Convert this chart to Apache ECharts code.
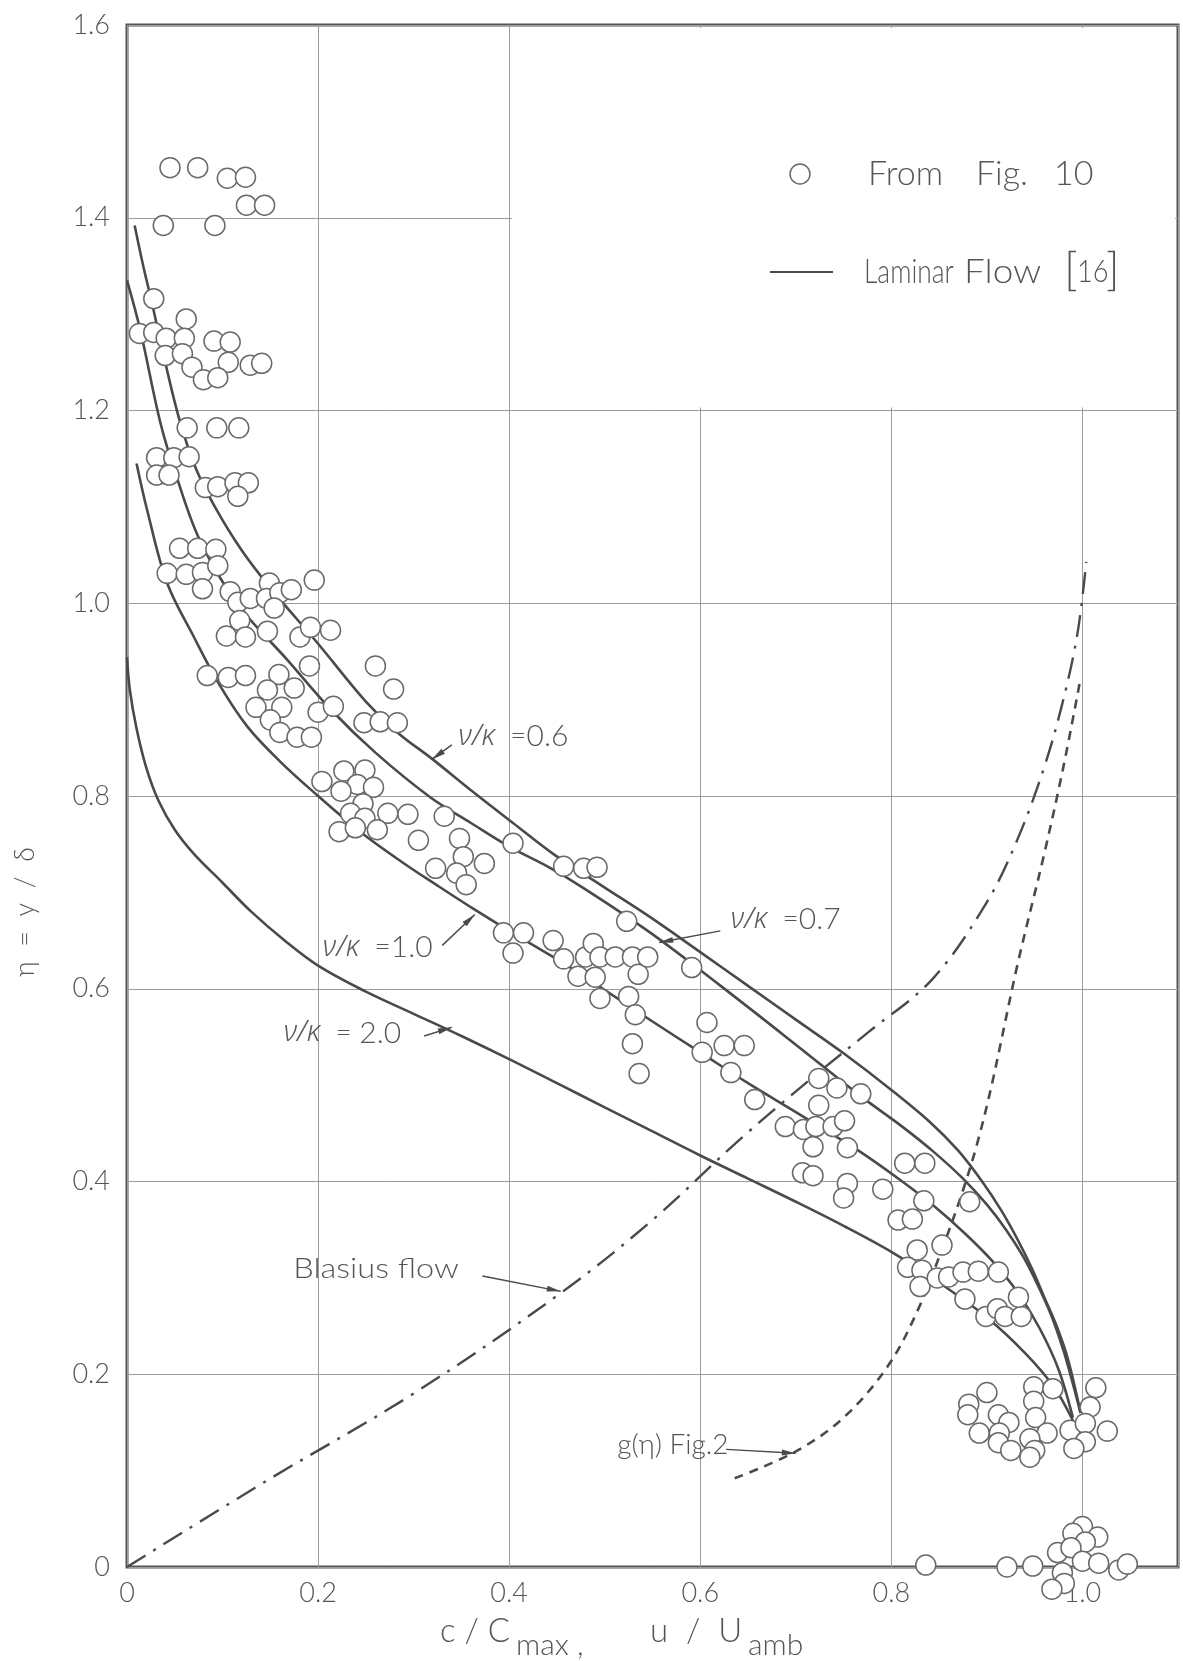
<!DOCTYPE html>
<html>
<head>
<meta charset="utf-8">
<script src="https://cdn.jsdelivr.net/npm/echarts@6/dist/echarts.min.js"></script>
<style>
  html, body { margin: 0; padding: 0; background: #fff; }
  #chart { width: 1183px; height: 1661px; }
</style>
</head>
<body>
<div id="chart"></div>
<script>
// ---- Laminar-flow profiles (x = c/Cmax or u/Uamb, y = eta = y/delta) ----
const nu06 = [[0.008,1.392],[0.017,1.35],[0.026,1.312],[0.04,1.25],[0.055,1.19],[0.072,1.14],[0.092,1.10],[0.12,1.055],[0.15,1.016],[0.2,0.958],[0.25,0.898],[0.283,0.866],[0.32,0.838],[0.36,0.806],[0.404,0.772],[0.446,0.740],[0.5,0.705],[0.548,0.674],[0.6,0.638],[0.65,0.603],[0.7,0.568],[0.75,0.533],[0.8,0.495],[0.84,0.462],[0.87,0.432],[0.895,0.40],[0.915,0.37],[0.932,0.34],[0.947,0.31],[0.96,0.28],[0.973,0.25],[0.985,0.215],[0.998,0.16]];
const nu07 = [[0.0,1.335],[0.014,1.283],[0.035,1.187],[0.052,1.131],[0.076,1.066],[0.115,1.0],[0.168,0.941],[0.213,0.89],[0.26,0.845],[0.317,0.799],[0.36,0.772],[0.401,0.747],[0.44,0.727],[0.477,0.705],[0.548,0.658],[0.62,0.604],[0.7,0.542],[0.77,0.487],[0.81,0.458],[0.844,0.431],[0.875,0.403],[0.9,0.376],[0.92,0.35],[0.938,0.322],[0.953,0.293],[0.967,0.262],[0.98,0.225],[0.99,0.19],[0.998,0.16]];
const nu10 = [[0.01,1.145],[0.021,1.097],[0.042,1.021],[0.07,0.965],[0.097,0.915],[0.126,0.872],[0.16,0.836],[0.2,0.80],[0.244,0.763],[0.29,0.73],[0.325,0.707],[0.364,0.682],[0.4,0.66],[0.461,0.624],[0.498,0.600],[0.55,0.566],[0.6,0.534],[0.65,0.502],[0.7,0.472],[0.764,0.433],[0.81,0.401],[0.844,0.375],[0.877,0.346],[0.907,0.316],[0.932,0.285],[0.955,0.248],[0.975,0.205],[0.99,0.155]];
const nu20 = [[0.0,0.944],[0.003,0.91],[0.01,0.87],[0.02,0.83],[0.033,0.795],[0.05,0.765],[0.07,0.74],[0.1,0.71],[0.13,0.68],[0.165,0.65],[0.2,0.624],[0.25,0.597],[0.3,0.574],[0.35,0.551],[0.4,0.527],[0.45,0.502],[0.5,0.477],[0.55,0.452],[0.6,0.427],[0.65,0.403],[0.7,0.379],[0.75,0.354],[0.8,0.327],[0.85,0.295],[0.9,0.259],[0.94,0.222],[0.97,0.187],[0.99,0.152]];
const blasius = [[0,0],[0.147,0.09],[0.3,0.18],[0.455,0.285],[0.55,0.36],[0.643,0.445],[0.72,0.51],[0.776,0.555],[0.843,0.61],[0.9,0.69],[0.932,0.755],[0.96,0.83],[0.98,0.9],[0.995,0.97],[1.004,1.043]];
const gEta = [[0.636,0.092],[0.7,0.12],[0.75,0.155],[0.796,0.208],[0.827,0.265],[0.855,0.335],[0.875,0.391],[0.89,0.44],[0.905,0.5],[0.932,0.625],[0.96,0.74],[0.98,0.83],[0.998,0.922]];

// ---- Measured concentration / velocity points ----
const fig10Points = [
  [0.045,1.452],[0.074,1.452],[0.105,1.441],[0.124,1.442],[0.125,1.413],[0.144,1.413],
  [0.038,1.392],[0.092,1.392],
  [0.028,1.316],[0.013,1.280],[0.028,1.281],[0.062,1.295],[0.041,1.275],[0.060,1.275],[0.091,1.272],[0.108,1.271],
  [0.040,1.257],[0.058,1.259],[0.068,1.245],[0.106,1.250],[0.129,1.247],[0.141,1.249],[0.080,1.232],[0.095,1.234],
  [0.063,1.182],[0.094,1.182],[0.117,1.182],
  [0.031,1.151],[0.049,1.151],[0.065,1.152],[0.031,1.133],[0.044,1.133],[0.082,1.120],[0.095,1.121],[0.113,1.125],[0.127,1.125],[0.116,1.111],
  [0.055,1.057],[0.074,1.057],[0.093,1.056],[0.042,1.031],[0.062,1.030],[0.079,1.032],[0.095,1.039],[0.079,1.015],
  [0.108,1.012],[0.116,1.001],[0.129,1.005],[0.149,1.021],[0.146,1.005],[0.160,1.011],[0.172,1.014],[0.154,0.995],[0.196,1.024],
  [0.118,0.982],[0.104,0.966],[0.124,0.965],[0.147,0.971],[0.181,0.965],[0.192,0.975],[0.213,0.972],
  [0.191,0.935],[0.260,0.935],[0.279,0.911],
  [0.084,0.925],[0.106,0.923],[0.124,0.925],[0.159,0.926],[0.147,0.910],[0.175,0.912],
  [0.135,0.892],[0.162,0.892],[0.200,0.887],[0.216,0.893],[0.150,0.879],[0.248,0.876],[0.265,0.877],[0.283,0.876],
  [0.160,0.866],[0.178,0.861],[0.193,0.861],
  [0.204,0.815],[0.227,0.826],[0.249,0.827],[0.241,0.812],[0.258,0.809],[0.224,0.805],[0.247,0.792],[0.234,0.782],[0.249,0.777],[0.273,0.782],[0.294,0.781],[0.222,0.763],[0.239,0.767],[0.262,0.765],[0.332,0.779],
  [0.305,0.754],[0.348,0.756],[0.352,0.737],[0.323,0.725],[0.345,0.720],[0.374,0.730],[0.355,0.708],[0.404,0.751],
  [0.457,0.727],[0.478,0.725],[0.492,0.726],[0.523,0.670],
  [0.394,0.658],[0.415,0.658],[0.404,0.637],[0.446,0.650],[0.457,0.631],[0.480,0.633],[0.488,0.647],[0.495,0.633],[0.511,0.633],[0.529,0.633],[0.472,0.613],[0.490,0.612],[0.535,0.615],[0.545,0.633],[0.495,0.590],
  [0.525,0.592],[0.532,0.573],[0.529,0.543],[0.536,0.512],
  [0.591,0.622],[0.607,0.565],[0.602,0.534],[0.625,0.541],[0.646,0.541],[0.632,0.513],[0.657,0.485],[0.689,0.457],[0.708,0.454],[0.721,0.457],[0.718,0.436],[0.724,0.479],[0.724,0.507],[0.743,0.497],[0.768,0.491],[0.739,0.457],[0.751,0.463],[0.754,0.435],
  [0.707,0.409],[0.718,0.406],[0.754,0.398],[0.750,0.383],[0.791,0.392],[0.814,0.419],[0.835,0.419],[0.834,0.380],[0.807,0.360],[0.822,0.361],[0.882,0.379],[0.827,0.329],[0.817,0.311],[0.832,0.308],[0.830,0.291],[0.853,0.334],[0.848,0.300],[0.860,0.301],[0.875,0.306],[0.891,0.307],[0.912,0.306],[0.877,0.278],[0.899,0.260],[0.911,0.268],[0.919,0.260],[0.936,0.260],[0.933,0.280],
  [0.949,0.187],[0.969,0.185],[1.014,0.186],[1.008,0.166],[0.949,0.172],[0.951,0.155],[0.963,0.139],[0.945,0.133],[0.987,0.142],[1.003,0.149],[1.026,0.141],[1.003,0.130],[0.991,0.123],[0.900,0.181],[0.881,0.169],[0.880,0.158],[0.912,0.158],[0.923,0.150],[0.892,0.139],[0.913,0.139],[0.912,0.129],[0.925,0.121],[0.950,0.121],[0.945,0.114],
  [0.836,0.002],[0.921,0.0],[0.948,0.001],[1.0,0.042],[0.99,0.035],[1.016,0.031],[1.003,0.026],[0.974,0.015],[0.988,0.020],[1.0,0.006],[1.017,0.004],[1.038,-0.003],[1.047,0.003],[0.979,-0.006],[0.981,-0.017],[0.968,-0.023]
];

// ---- Axis ranges and tick labels ----
const xRange = [0, 1.1];
const yRange = [0, 1.6];
const tickStep = 0.2;
const xTickLabels = ['0', '0.2', '0.4', '0.6', '0.8', '1.0'];
const yTickLabels = ['0', '0.2', '0.4', '0.6', '0.8', '1.0', '1.2', '1.4', '1.6'];
// panel corner kept free of grid lines for the key
const keyPanel = [[0.403, 1.203], [1.097, 1.597]];

// ---- Curve annotations: label anchor, leader start and leader tip (data coords) ----
const curveNotes = [
  { text: '{g|ν/κ}  ={n|0.6}', at: [0.347, 0.862], from: [0.340, 0.853], tip: [0.319, 0.838] },
  { text: '{g|ν/κ}  ={n|0.7}', at: [0.632, 0.672], from: [0.621, 0.660], tip: [0.557, 0.648] },
  { text: '{g|ν/κ}  ={n|1.0}', at: [0.205, 0.643], from: [0.330, 0.645], tip: [0.364, 0.677] },
  { text: '{g|ν/κ}  = {n|2.0}', at: [0.164, 0.554], from: [0.311, 0.551], tip: [0.340, 0.560] },
  { text: 'Blasius flow', at: [0.174, 0.309], from: [0.372, 0.302], tip: [0.454, 0.286], scaleX: 1.16 },
  { text: 'g(η) Fig.2', at: [0.513, 0.127], from: [0.627, 0.122], tip: [0.70, 0.118] }
];

const INK = '#4a4a4a';
const TEXT = '#555';
const FONT = 'Lato, "DejaVu Sans", sans-serif';

const chart = echarts.init(document.getElementById('chart'), null, { renderer: 'canvas' });

function fmtTick(list, v) {
  const i = Math.round(v / tickStep);
  return list[i] !== undefined && Math.abs(v - i * tickStep) < 1e-6 ? list[i] : '';
}

const solidStyle = { color: INK, width: 2.6 };

chart.setOption({
  animation: false,
  backgroundColor: '#fff',
  grid: {
    left: 127, right: 5, top: 25, bottom: 94,
    show: true, borderColor: '#555', borderWidth: 3, backgroundColor: 'transparent'
  },
  xAxis: {
    type: 'value', min: xRange[0], max: xRange[1], interval: tickStep,
    axisLine: { show: false }, axisTick: { show: false },
    axisLabel: { margin: 13, color: TEXT, fontSize: 27, fontFamily: FONT, fontWeight: 300,
      formatter: v => fmtTick(xTickLabels, v) },
    splitLine: { show: true, lineStyle: { color: '#9c9c9c', width: 1 } }
  },
  yAxis: {
    type: 'value', min: yRange[0], max: yRange[1], interval: tickStep,
    axisLine: { show: false }, axisTick: { show: false },
    axisLabel: { margin: 17, color: TEXT, fontSize: 27, fontFamily: FONT, fontWeight: 300,
      formatter: v => fmtTick(yTickLabels, v) },
    splitLine: { show: true, lineStyle: { color: '#9c9c9c', width: 1 } }
  },
  series: [
    { name: 'ν/κ = 0.6', type: 'line', data: nu06, smooth: 0.35, symbol: 'none', lineStyle: solidStyle, itemStyle: { color: INK }, z: 3,
      markArea: { silent: true, itemStyle: { color: '#fff', opacity: 1 },
        data: [[{ coord: keyPanel[0] }, { coord: keyPanel[1] }]] } },
    { name: 'ν/κ = 0.7', type: 'line', data: nu07, smooth: 0.35, symbol: 'none', lineStyle: solidStyle, itemStyle: { color: INK }, z: 3 },
    { name: 'ν/κ = 1.0', type: 'line', data: nu10, smooth: 0.35, symbol: 'none', lineStyle: solidStyle, itemStyle: { color: INK }, z: 3 },
    { name: 'ν/κ = 2.0', type: 'line', data: nu20, smooth: 0.35, symbol: 'none', lineStyle: solidStyle, itemStyle: { color: INK }, z: 3 },
    { name: 'Blasius flow', type: 'line', data: blasius, smooth: 0.35, symbol: 'none', itemStyle: { color: INK },
      lineStyle: { color: INK, width: 2.4, type: [22, 9, 3, 9] }, z: 3 },
    { name: 'g(η) Fig.2', type: 'line', data: gEta, smooth: 0.35, symbol: 'none', itemStyle: { color: INK },
      lineStyle: { color: INK, width: 2.6, type: [9, 7] }, z: 3 },
    { name: 'From Fig. 10', type: 'scatter', data: fig10Points, symbol: 'circle', symbolSize: 20,
      clip: false, z: 5,
      itemStyle: { color: '#fff', borderColor: '#6a6a6a', borderWidth: 1.5, opacity: 1 } }
  ]
});

// ---- Axis titles, key and curve annotations ----
const px = p => chart.convertToPixel({ gridIndex: 0 }, p);

function arrowHead(from, tip, len, half) {
  const dx = tip[0] - from[0], dy = tip[1] - from[1];
  const d = Math.hypot(dx, dy) || 1;
  const ux = dx / d, uy = dy / d;
  const bx = tip[0] - ux * len, by = tip[1] - uy * len;
  return [[tip[0], tip[1]], [bx - uy * half, by + ux * half], [bx + uy * half, by - ux * half]];
}

function label(text, x, y, size, extra) {
  return Object.assign({
    type: 'text', x: x, y: y, z: 10,
    style: { text: text, fill: TEXT, font: '300 ' + size + 'px ' + FONT, verticalAlign: 'middle', align: 'left' }
  }, extra || {});
}

const graphics = [];
const richNote = {
  g: { fontSize: 29, fontStyle: 'italic', fontFamily: '"Noto Sans", "DejaVu Sans", sans-serif', fontWeight: 300, fill: '#5a5a5a', color: '#5a5a5a' },
  n: { fontSize: 30, fontFamily: FONT, fontWeight: 300, fill: TEXT, color: TEXT }
};
curveNotes.forEach(n => {
  const a = px(n.at), f = px(n.from), t = px(n.tip);
  graphics.push({
    type: 'text', x: a[0], y: a[1], z: 10, scaleX: n.scaleX || 1,
    style: { text: n.text, fill: TEXT, font: '300 28px ' + FONT, verticalAlign: 'middle', align: 'left', rich: richNote }
  });
  graphics.push({
    type: 'line', z: 10, shape: { x1: f[0], y1: f[1], x2: t[0], y2: t[1] },
    style: { stroke: INK, lineWidth: 1.4 }
  });
  graphics.push({
    type: 'polygon', z: 10, shape: { points: arrowHead(f, t, 14, 3) },
    style: { fill: INK }
  });
});

// key
graphics.push({ type: 'circle', z: 10, shape: { cx: 800, cy: 174, r: 10 },
  style: { fill: '#fff', stroke: '#6a6a6a', lineWidth: 1.5 } });
graphics.push(label('From', 868, 174, 34));
graphics.push(label('Fig.', 976, 174, 34));
graphics.push(label('10', 1054, 174, 34));
graphics.push({ type: 'line', z: 10, shape: { x1: 770, y1: 272, x2: 833, y2: 272 },
  style: { stroke: INK, lineWidth: 2 } });
graphics.push(label('Laminar', 864, 272, 33, { scaleX: 0.8 }));
graphics.push(label('Flow', 964, 272, 33, { scaleX: 1.12 }));
graphics.push(label('[', 1064, 270, 46));
graphics.push(label('16', 1077, 272, 32, { scaleX: 0.85 }));
graphics.push(label(']', 1106, 270, 46));

// y-axis title, rotated
graphics.push(label('η  =  y  /  δ', 25, 912, 27, { rotation: Math.PI / 2,
  style: { text: 'η  =  y  /  δ', fill: TEXT, font: '300 27px ' + FONT, align: 'center', verticalAlign: 'middle' } }));
// x-axis title with subscripts
graphics.push(label('c / C', 440, 1631, 33));
graphics.push(label('max ,', 516, 1645, 30));
graphics.push(label('u  /  U', 650, 1631, 33));
graphics.push(label('amb', 748, 1645, 30));

chart.setOption({ graphic: graphics });
</script>
</body>
</html>
